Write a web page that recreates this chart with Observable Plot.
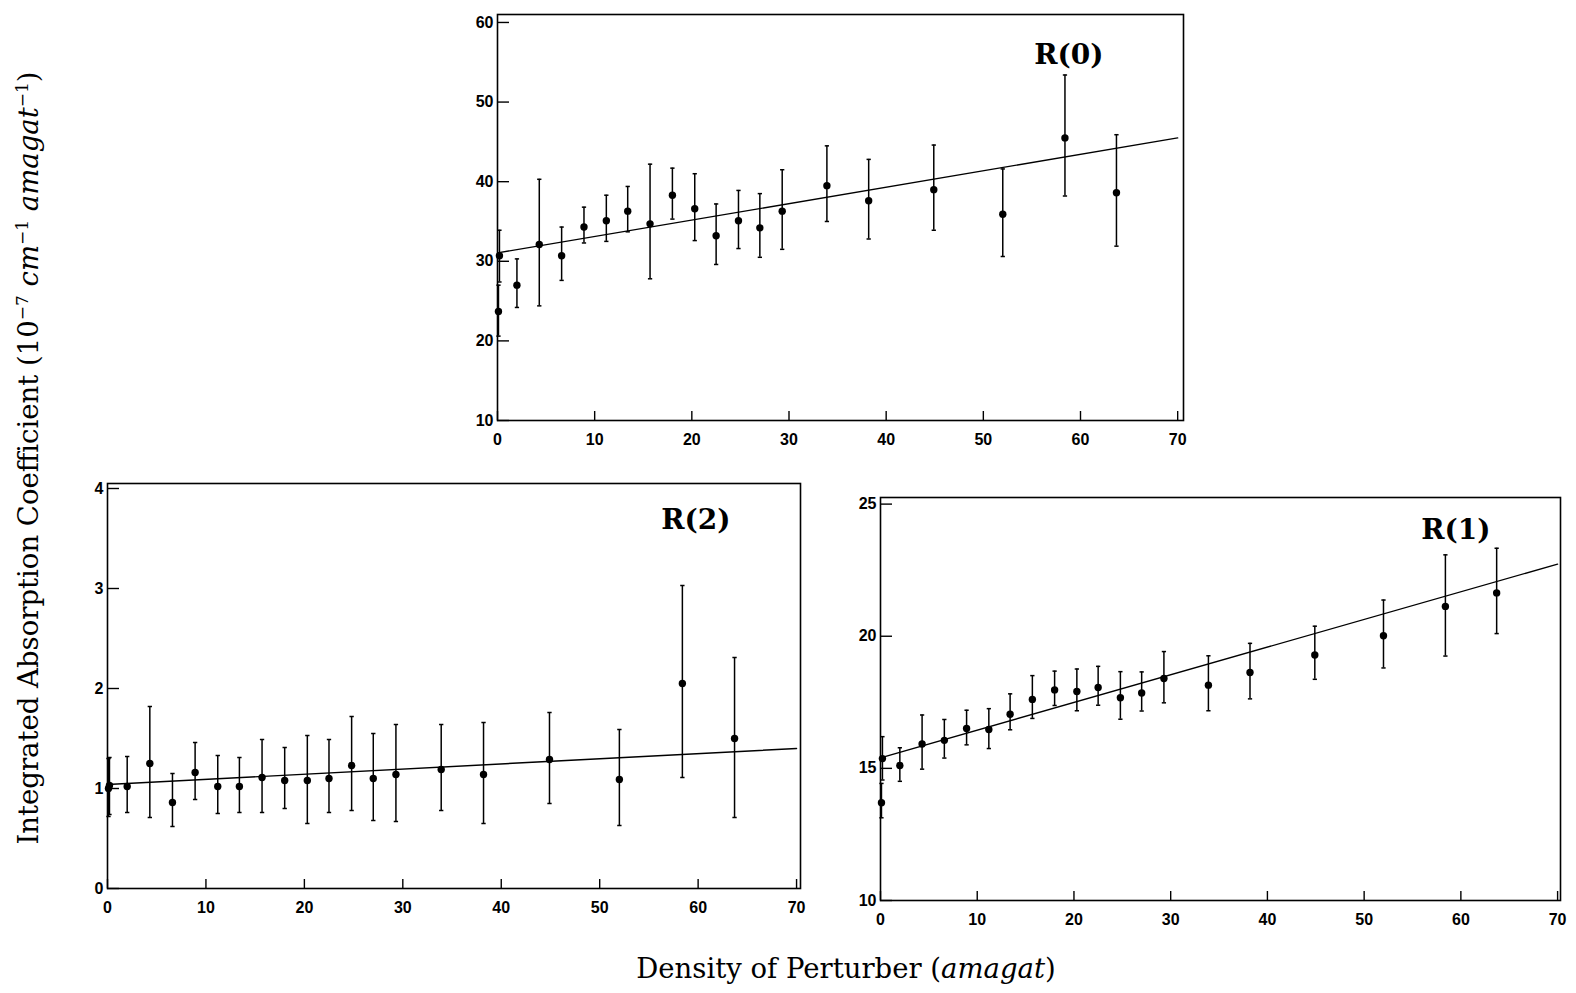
<!DOCTYPE html>
<html><head><meta charset="utf-8">
<script src="https://cdn.jsdelivr.net/npm/d3@7"></script>
<script src="https://cdn.jsdelivr.net/npm/@observablehq/plot@0.6"></script>
<style>
body{margin:0;background:#fff;}
#page{position:relative;width:1576px;height:993px;overflow:hidden;background:#fff;color:#000;}
.panel{position:absolute;}
.ylab{position:absolute;left:28px;top:458px;transform:translate(-50%,-50%) rotate(-90deg);white-space:nowrap;font-family:"DejaVu Serif";font-size:27.5px;}
.xlab{position:absolute;left:846px;top:968px;transform:translate(-50%,-50%);white-space:nowrap;font-family:"DejaVu Serif";font-size:27.5px;}
sup{font-size:17px;vertical-align:10px;line-height:0;}
</style>
</head><body>
<div id="page">
<div class="ylab">Integrated Absorption Coefficient (10<sup>−7</sup> <i>cm</i><sup>−1</sup> <i>amagat</i><sup>−1</sup>)</div>
<div class="xlab">Density of Perturber (<i>amagat</i>)</div>
</div>
<script>
// Density of perturber (amagat), shared by all three panels
const density = [0.1, 0.2, 2.0, 4.3, 6.6, 8.9, 11.2, 13.4, 15.7, 18.0, 20.3, 22.5, 24.8, 27.0, 29.3, 33.9, 38.2, 44.9, 52.0, 58.4, 63.7];
const xTicks = [0, 10, 20, 30, 40, 50, 60, 70];
const fitX = [0, 70];

// R(0)
const r0 = [23.7, 30.7, 27.0, 32.1, 30.7, 34.3, 35.1, 36.3, 34.7, 38.3, 36.6, 33.2, 35.1, 34.2, 36.3, 39.5, 37.6, 39.0, 35.9, 45.5, 38.6];
const r0Lo = [20.6, 27.4, 24.2, 24.4, 27.6, 32.3, 32.5, 33.7, 27.8, 35.3, 32.6, 29.6, 31.6, 30.5, 31.5, 35.0, 32.8, 33.9, 30.6, 38.2, 31.9];
const r0Hi = [27.0, 33.9, 30.3, 40.3, 34.3, 36.8, 38.3, 39.4, 42.2, 41.7, 41.0, 37.2, 38.9, 38.5, 41.5, 44.5, 42.8, 44.6, 41.6, 53.4, 45.9];
const r0Fit = [31.05, 45.5];
const r0Ticks = [10, 20, 30, 40, 50, 60];

// R(1)
const r1 = [13.70, 15.37, 15.11, 15.92, 16.06, 16.51, 16.47, 17.05, 17.61, 17.97, 17.91, 18.06, 17.67, 17.85, 18.40, 18.15, 18.63, 19.29, 20.02, 21.13, 21.64];
const r1Lo = [13.13, 14.56, 14.51, 14.97, 15.39, 15.89, 15.75, 16.46, 16.89, 17.38, 17.18, 17.39, 16.86, 17.17, 17.48, 17.18, 17.63, 18.37, 18.80, 19.25, 20.10];
const r1Hi = [14.43, 16.20, 15.78, 17.02, 16.85, 17.20, 17.26, 17.82, 18.51, 18.68, 18.76, 18.86, 18.66, 18.65, 19.42, 19.26, 19.73, 20.38, 21.37, 23.08, 23.33];
const r1Fit = [15.40, 22.73];
const r1Ticks = [10, 15, 20, 25];

// R(2)
const r2 = [1.00, 1.03, 1.02, 1.25, 0.86, 1.16, 1.02, 1.02, 1.11, 1.08, 1.08, 1.10, 1.23, 1.10, 1.14, 1.19, 1.14, 1.29, 1.09, 2.05, 1.50];
const r2Lo = [0.72, 0.74, 0.76, 0.71, 0.62, 0.89, 0.75, 0.76, 0.76, 0.80, 0.65, 0.76, 0.78, 0.68, 0.67, 0.78, 0.65, 0.85, 0.63, 1.11, 0.71];
const r2Hi = [1.30, 1.31, 1.32, 1.82, 1.15, 1.46, 1.33, 1.31, 1.49, 1.41, 1.53, 1.49, 1.72, 1.55, 1.64, 1.64, 1.66, 1.76, 1.59, 3.03, 2.31];
const r2Fit = [1.04, 1.40];
const r2Ticks = [0, 1, 2, 3, 4];

function panel({values, lo, hi, fit, label, yDomain, yTicks, xDomain, left, top, plotW, plotH, labelDx, labelDy}) {
  const mL = 45, mR = 12, mT = 5, mB = 40;
  const data = density.map((x, i) => ({x, y: values[i], lo: lo[i], hi: hi[i]}));
  const fitData = fitX.map((x, i) => ({x, y: fit[i]}));
  const cap = 0.22;
  const chart = Plot.plot({
    width: plotW + mL + mR, height: plotH + mT + mB,
    marginLeft: mL, marginRight: mR, marginTop: mT, marginBottom: mB,
    style: {background: "transparent", fontFamily: "Liberation Sans", fontSize: "16px", fontWeight: "bold", color: "#000"},
    x: {domain: xDomain, label: null},
    y: {domain: yDomain, label: null},
    marks: [
      Plot.axisX({ticks: xTicks, tickSize: -9, tickPadding: 22, tickFormat: d => d, label: null, strokeWidth: 1.4}),
      Plot.axisY({ticks: yTicks, tickSize: -12, tickPadding: 16, tickFormat: d => d, label: null, strokeWidth: 1.4}),
      Plot.frame({stroke: "#000", strokeWidth: 1.6}),
      Plot.line(fitData, {x: "x", y: "y", stroke: "#000", strokeWidth: 1.4, clip: true}),
      Plot.ruleX(data, {x: "x", y1: "lo", y2: "hi", stroke: "#000", strokeWidth: 1.5}),
      Plot.link(data, {x1: d => d.x - cap, x2: d => d.x + cap, y1: "hi", y2: "hi", stroke: "#000", strokeWidth: 1.5}),
      Plot.link(data, {x1: d => d.x - cap, x2: d => d.x + cap, y1: "lo", y2: "lo", stroke: "#000", strokeWidth: 1.5}),
      Plot.dot(data, {x: "x", y: "y", r: 3.7, fill: "#000", stroke: null}),
      Plot.text([label], {frameAnchor: "top-right", dx: labelDx, dy: labelDy, textAnchor: "end", lineAnchor: "middle",
        fontFamily: "DejaVu Serif", fontWeight: "bold", fontSize: 28, fill: "#000"})
    ]
  });
  const wrap = document.createElement("div");
  wrap.className = "panel";
  wrap.style.left = (left - mL) + "px";
  wrap.style.top = (top - mT) + "px";
  wrap.appendChild(chart);
  document.getElementById("page").appendChild(wrap);
}

panel({values: r0, lo: r0Lo, hi: r0Hi, fit: r0Fit, label: "R(0)", yDomain: [10, 61], yTicks: r0Ticks, xDomain: [0, 70.6],
  left: 497, top: 14, plotW: 686, plotH: 406, labelDx: -80, labelDy: 41});
panel({values: r2, lo: r2Lo, hi: r2Hi, fit: r2Fit, label: "R(2)", yDomain: [0, 4.05], yTicks: r2Ticks, xDomain: [0, 70.4],
  left: 107, top: 483, plotW: 693, plotH: 405, labelDx: -70, labelDy: 37});
panel({values: r1, lo: r1Lo, hi: r1Hi, fit: r1Fit, label: "R(1)", yDomain: [10, 25.25], yTicks: r1Ticks, xDomain: [0, 70.3],
  left: 880, top: 497, plotW: 680, plotH: 403, labelDx: -70, labelDy: 33});
</script>
</body></html>
